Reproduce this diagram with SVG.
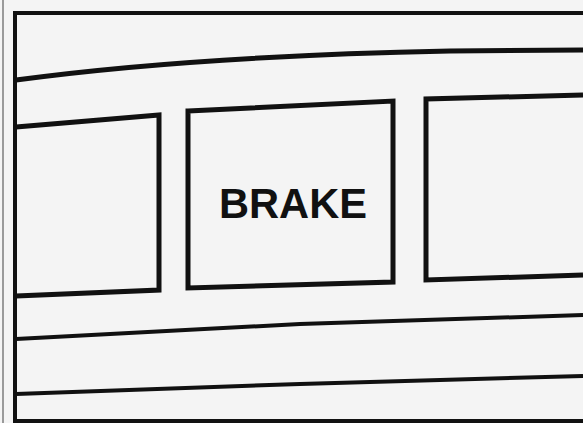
<svg xmlns="http://www.w3.org/2000/svg" width="583" height="423" viewBox="0 0 583 423">
<style>
.ln{fill:none;stroke:#111;stroke-width:5;stroke-linejoin:miter;stroke-linecap:butt}
.thin{stroke-width:4}
.lbl{font-family:"Liberation Sans",Arial,sans-serif;font-weight:bold;font-size:42px;fill:#111}
</style>
<rect x="0" y="0" width="583" height="423" fill="#f4f4f4"/>
<line x1="3" y1="0" x2="3" y2="423" stroke="#9a9a9a" stroke-width="2"/>
<g id="frame">
<path class="ln thin" d="M15,423 L15,13 L583,13"/>
<line class="ln thin" x1="15" y1="421" x2="583" y2="421"/>
</g>
<g id="bands">
<path class="ln" d="M16,80 C150,62 300,54 450,51 L583,50"/>
<path class="ln thin" d="M16,339 L300,324 L583,315"/>
<path class="ln thin" d="M16,394 L300,384 L583,376"/>
</g>
<g id="left-box">
<path class="ln" d="M16,127 L159,115 L159,290 L16,296"/>
</g>
<g id="brake">
<path class="ln" d="M188,111 L393,101 L393,282 L188,288 Z"/>
<text class="lbl" x="219" y="218" textLength="148" lengthAdjust="spacingAndGlyphs">BRAKE</text>
</g>
<g id="right-box">
<path class="ln" d="M583,95 L426,99 L426,280 L583,275"/>
</g>
</svg>
